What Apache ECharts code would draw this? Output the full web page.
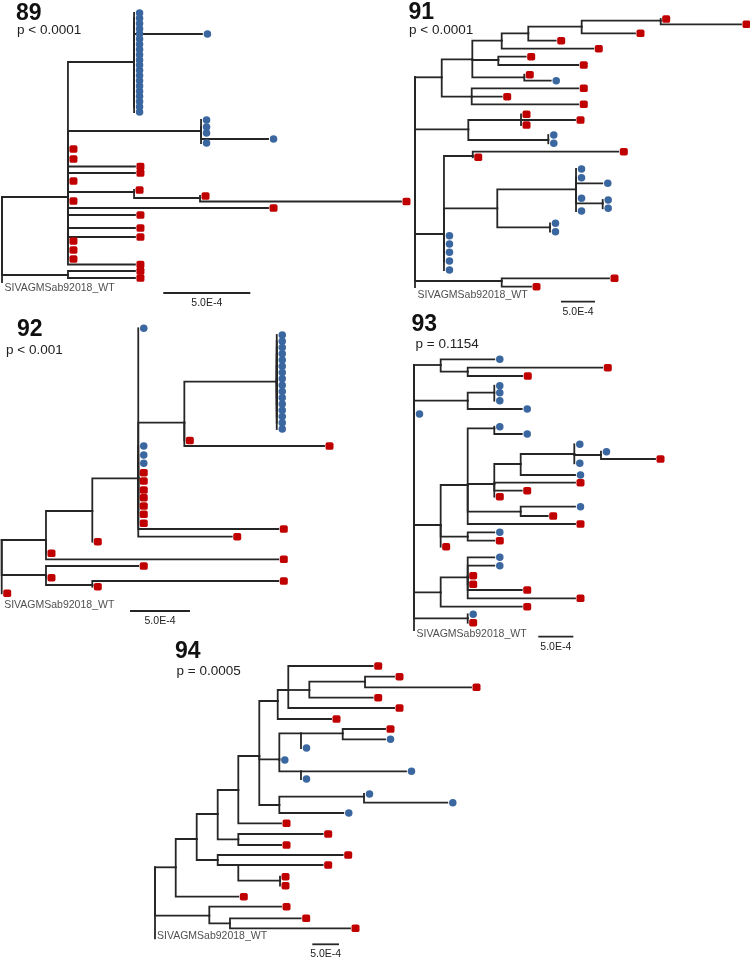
<!DOCTYPE html>
<html><head><meta charset="utf-8">
<script src="https://cdn.jsdelivr.net/npm/echarts@6/dist/echarts.min.js"></script>
<style>html,body{margin:0;padding:0;background:#fff}#c{width:750px;height:959px}</style>
</head><body><div id="c"></div>
<script>
// ================= DATA =================
// Each node: [id, parent, distance from root (x 1e-4 substitutions/site), row position (top = 0), tip type]
// tip type: 'r' = red square, 'b' = blue circle, '' = internal node, 'w' = unmarked reference tip
const tree89 = [
  ['root', null, 0, 37.4, ''],
  ['A', 'root', 3.79, 37.4, ''],
  ['B', 'A', 7.59, 10.4, ''],
  ['b1', 'B', 7.59, 0.6, 'b'], ['b2', 'B', 7.59, 1.64, 'b'], ['b3', 'B', 7.59, 2.68, 'b'],
  ['b4', 'B', 7.59, 3.73, 'b'], ['b5', 'B', 7.59, 4.77, 'b'], ['b6', 'B', 7.59, 5.81, 'b'],
  ['b7', 'B', 7.59, 6.85, 'b'], ['b8', 'B', 7.59, 7.89, 'b'], ['b9', 'B', 7.59, 8.94, 'b'],
  ['b10', 'B', 7.59, 9.98, 'b'], ['b11', 'B', 7.59, 11.02, 'b'], ['b12', 'B', 7.59, 12.06, 'b'],
  ['b13', 'B', 7.59, 13.1, 'b'], ['b14', 'B', 7.59, 14.15, 'b'], ['b15', 'B', 7.59, 15.19, 'b'],
  ['b16', 'B', 7.59, 16.23, 'b'], ['b17', 'B', 7.59, 17.27, 'b'], ['b18', 'B', 7.59, 18.31, 'b'],
  ['b19', 'B', 7.59, 19.36, 'b'], ['b20', 'B', 7.59, 20.4, 'b'],
  ['b21', 'B', 11.49, 4.8, 'b'],
  ['C', 'A', 11.44, 24.2, ''],
  ['c1', 'C', 11.44, 22, 'b'], ['c2', 'C', 11.44, 23.4, 'b'], ['c3', 'C', 11.44, 24.6, 'b'],
  ['c4', 'C', 11.44, 26.6, 'b'], ['c5', 'C', 15.29, 25.8, 'b'],
  ['a1', 'A', 3.79, 27.8, 'r'], ['a2', 'A', 3.79, 29.8, 'r'],
  ['a3', 'A', 7.64, 31.3, 'r'], ['a4', 'A', 7.64, 32.6, 'r'],
  ['a5', 'A', 3.79, 34.2, 'r'],
  ['D', 'A', 7.59, 36.4, ''], ['d1', 'D', 7.59, 36, 'r'],
  ['E', 'D', 11.38, 37.6, ''], ['e1', 'E', 11.38, 37.2, 'r'], ['e2', 'E', 22.93, 38.3, 'r'],
  ['a6', 'A', 3.79, 38.2, 'r'],
  ['a7', 'A', 15.29, 39.6, 'r'],
  ['a8', 'A', 7.64, 41, 'r'], ['a9', 'A', 7.64, 43.6, 'r'], ['a10', 'A', 7.64, 45.4, 'r'],
  ['a11', 'A', 3.79, 46.2, 'r'], ['a12', 'A', 3.79, 48, 'r'], ['a13', 'A', 3.79, 49.8, 'r'],
  ['a14', 'A', 7.64, 50.9, 'r'],
  ['F', 'root', 3.79, 53, ''], ['f1', 'F', 7.64, 52.2, 'r'], ['f2', 'F', 7.64, 53.6, 'r'],
  ['WT', 'root', 0, 54.4, 'w']
];

const tree91 = [
  ['root', null, 0, 13.46, ''],
  ['R1', 'root', 3.93, 13.46, ''],
  ['R2', 'R1', 8.43, 9.86, ''],
  ['R3', 'R2', 12.75, 6.14, ''],
  ['R4', 'R3', 16.66, 4.66, ''],
  ['R5', 'R4', 24.51, 3.34, ''],
  ['R6', 'R5', 36.13, 2.14, ''],
  ['t1', 'R6', 36.13, 1.8, 'r'], ['t2', 'R6', 47.94, 2.86, 'r'],
  ['t3', 'R5', 32.35, 4.66, 'r'],
  ['t4', 'R4', 20.69, 6.14, 'r'],
  ['t5', 'R3', 26.22, 7.74, 'r'],
  ['R7', 'R2', 12.25, 10, ''],
  ['t6', 'R7', 16.28, 9.34, 'r'], ['t7', 'R7', 24.01, 11, 'r'],
  ['R8', 'R2', 16.07, 13.46, ''],
  ['t8', 'R8', 16.07, 12.94, 'r'], ['t9', 'R8', 19.96, 14.14, 'b'],
  ['R9', 'R1', 8.34, 17.34, ''],
  ['t10', 'R9', 24.01, 15.66, 'r'], ['t11', 'R9', 12.75, 17.34, 'r'], ['t12', 'R9', 24.01, 18.86, 'r'],
  ['R10', 'root', 7.84, 23.86, ''],
  ['R11', 'R10', 15.59, 22, ''],
  ['t13', 'R11', 15.59, 20.86, 'r'], ['t14', 'R11', 23.53, 22, 'r'], ['t15', 'R11', 15.59, 23, 'r'],
  ['R12', 'R10', 19.6, 26, ''],
  ['t16', 'R12', 19.6, 25, 'b'], ['t17', 'R12', 19.6, 26.66, 'b'],
  ['R13', 'root', 4.26, 44.8, ''],
  ['R14', 'R13', 8.49, 29.2, ''],
  ['t18', 'R14', 29.9, 28.34, 'r'], ['t19', 'R14', 8.49, 29.46, 'r'],
  ['R15', 'R13', 12.1, 39.66, ''],
  ['R16', 'R15', 23.68, 35.86, ''],
  ['t20', 'R16', 23.68, 31.8, 'b'], ['t21', 'R16', 23.68, 33.54, 'b'], ['t22', 'R16', 27.54, 34.66, 'b'],
  ['t23', 'R16', 23.68, 37.66, 'b'],
  ['R17', 'R16', 27.6, 38.66, ''],
  ['t24', 'R17', 27.6, 38, 'b'], ['t25', 'R17', 27.6, 39.66, 'b'],
  ['t26', 'R16', 23.68, 40.2, 'b'],
  ['R18', 'R15', 19.85, 43.46, ''],
  ['t27', 'R18', 19.85, 42.66, 'b'], ['t28', 'R18', 19.85, 44.34, 'b'],
  ['t29', 'R13', 4.26, 45.14, 'b'], ['t30', 'R13', 4.26, 46.8, 'b'], ['t31', 'R13', 4.26, 48.46, 'b'],
  ['t32', 'R13', 4.26, 50.2, 'b'], ['t33', 'R13', 4.26, 52, 'b'],
  ['R19', 'root', 12.75, 54.2, ''],
  ['t34', 'R19', 28.53, 53.66, 'r'], ['t35', 'R19', 17.06, 55.34, 'r'],
  ['WT', 'root', 0, 55.4, 'w']
];

const tree92 = [
  ['root', null, 0, 44, ''],
  ['Q1', 'root', 3.69, 44, ''],
  ['Q2', 'Q1', 7.55, 38.2, ''],
  ['Q3', 'Q2', 11.38, 31.66, ''],
  ['u1', 'Q3', 11.38, 1.66, 'b'],
  ['Q4', 'Q3', 15.22, 20.54, ''],
  ['Q5', 'Q4', 22.92, 12.34, ''],
  ['u2', 'Q5', 22.92, 3, 'b'], ['u3', 'Q5', 22.92, 4.25, 'b'], ['u4', 'Q5', 22.92, 5.51, 'b'],
  ['u5', 'Q5', 22.92, 6.76, 'b'], ['u6', 'Q5', 22.92, 8.01, 'b'], ['u7', 'Q5', 22.92, 9.27, 'b'],
  ['u8', 'Q5', 22.92, 10.52, 'b'], ['u9', 'Q5', 22.92, 11.77, 'b'], ['u10', 'Q5', 22.92, 13.03, 'b'],
  ['u11', 'Q5', 22.92, 14.28, 'b'], ['u12', 'Q5', 22.92, 15.53, 'b'], ['u13', 'Q5', 22.92, 16.79, 'b'],
  ['u14', 'Q5', 22.92, 18.04, 'b'], ['u15', 'Q5', 22.92, 19.29, 'b'], ['u16', 'Q5', 22.92, 20.55, 'b'],
  ['u17', 'Q5', 22.92, 21.8, 'b'],
  ['u18', 'Q4', 15.22, 24.1, 'r'], ['u19', 'Q4', 26.86, 25.2, 'r'],
  ['u20', 'Q3', 11.38, 25.2, 'b'], ['u21', 'Q3', 11.38, 27, 'b'], ['u22', 'Q3', 11.38, 28.66, 'b'],
  ['u23', 'Q3', 11.38, 30.54, 'r'], ['u24', 'Q3', 11.38, 32.2, 'r'], ['u25', 'Q3', 11.38, 34, 'r'],
  ['u26', 'Q3', 11.38, 35.54, 'r'], ['u27', 'Q3', 11.38, 37.2, 'r'], ['u28', 'Q3', 11.38, 38.86, 'r'],
  ['u29', 'Q3', 11.38, 40.66, 'r'],
  ['u30', 'Q3', 23.05, 41.8, 'r'], ['u31', 'Q3', 19.17, 43.34, 'r'],
  ['u32', 'Q2', 7.55, 44.34, 'r'],
  ['u33', 'Q1', 3.69, 46.66, 'r'], ['u34', 'Q1', 23.05, 47.86, 'r'],
  ['Q6', 'root', 3.69, 51, ''],
  ['u35', 'Q6', 11.38, 49.2, 'r'], ['u36', 'Q6', 3.69, 51.54, 'r'],
  ['Q7', 'Q6', 7.55, 53, ''],
  ['u37', 'Q7', 23.05, 52.2, 'r'], ['u38', 'Q7', 7.55, 53.34, 'r'],
  ['WT', 'root', 0, 54.66, 'r']
];

const tree93 = [
  ['root', null, 0, 3, ''],
  ['S1', 'root', 3.81, 3, ''],
  ['v1', 'S1', 11.47, 1.86, 'b'],
  ['S2', 'S1', 7.67, 4.34, ''],
  ['v2', 'S2', 26.9, 3.54, 'r'], ['v3', 'S2', 15.47, 5.2, 'r'],
  ['S3', 'root', 7.67, 10.14, ''],
  ['S4', 'S3', 11.47, 8.54, ''],
  ['v4', 'S4', 11.47, 7.14, 'b'], ['v5', 'S4', 11.47, 8.54, 'b'], ['v6', 'S4', 11.47, 10.14, 'b'],
  ['v7', 'S3', 15.39, 11.8, 'b'],
  ['v8', 'root', 0, 12.8, 'b'],
  ['S12', 'root', 3.81, 35, ''],
  ['S5', 'S12', 7.67, 27, ''],
  ['S6', 'S5', 11.47, 15.66, ''],
  ['v9', 'S6', 11.47, 15.34, 'b'], ['v10', 'S6', 15.39, 16.8, 'b'],
  ['S7', 'S5', 11.47, 26.8, ''],
  ['S8', 'S7', 15.24, 22.8, ''],
  ['S9', 'S8', 22.9, 20.8, ''],
  ['v11', 'S9', 22.9, 18.86, 'b'],
  ['S10', 'S9', 26.71, 21, ''],
  ['v12', 'S10', 26.71, 20.34, 'b'], ['v13', 'S10', 34.43, 21.8, 'r'],
  ['v14', 'S9', 22.9, 22.66, 'b'],
  ['v15', 'S8', 23, 25, 'b'],
  ['v16', 'S7', 23, 26.54, 'r'], ['v17', 'S7', 15.39, 28.14, 'r'], ['v18', 'S7', 11.47, 29.34, 'r'],
  ['S13', 'S5', 15.24, 32.34, ''],
  ['v19', 'S13', 23, 31.34, 'b'], ['v20', 'S13', 19.1, 33.2, 'r'],
  ['v21', 'S5', 23, 34.8, 'r'],
  ['S14', 'S12', 7.67, 37.34, ''],
  ['v22', 'S14', 11.47, 36.46, 'b'], ['v23', 'S14', 11.47, 38.14, 'r'],
  ['v24', 'S12', 3.81, 39.34, 'r'],
  ['S15', 'root', 3.81, 48.46, ''],
  ['S16', 'S15', 7.67, 45.46, ''],
  ['v25', 'S16', 11.47, 41.46, 'b'], ['v26', 'S16', 11.47, 43.14, 'b'],
  ['v27', 'S16', 7.67, 45.14, 'r'], ['v28', 'S16', 7.67, 46.86, 'r'],
  ['v29', 'S16', 15.39, 48, 'r'], ['v30', 'S16', 23, 49.66, 'r'],
  ['v31', 'S15', 15.39, 51.34, 'r'],
  ['S17', 'root', 7.67, 53.66, ''],
  ['v32', 'S17', 7.67, 52.86, 'b'], ['v33', 'S17', 7.67, 54.54, 'r'],
  ['WT', 'root', 0, 56, 'w']
];

const tree94 = [
  ['root', null, 0, 41.46, ''],
  ['T1', 'root', 3.88, 41.46, ''],
  ['T2', 'T1', 7.81, 35.8, ''],
  ['T3', 'T2', 11.74, 30.8, ''],
  ['T4', 'T3', 15.6, 26, ''],
  ['T5', 'T4', 19.53, 19.2, ''],
  ['T6', 'T5', 22.98, 8.2, ''],
  ['T7', 'T6', 24.96, 6, ''],
  ['w1', 'T7', 40.77, 1.2, 'r'],
  ['T8', 'T7', 28.9, 6, ''],
  ['T9', 'T8', 39.33, 4.34, ''],
  ['w2', 'T9', 44.76, 3.34, 'r'], ['w3', 'T9', 59.18, 5.46, 'r'],
  ['w4', 'T8', 40.77, 7.54, 'r'],
  ['w5', 'T7', 44.76, 9.6, 'r'],
  ['w6', 'T6', 32.96, 11.8, 'r'],
  ['T10', 'T5', 23.28, 19.86, ''],
  ['T11', 'T10', 27.34, 14.66, ''],
  ['T12', 'T11', 35.15, 14.66, ''],
  ['w7', 'T12', 43.07, 13.8, 'r'], ['w8', 'T12', 43.07, 15.86, 'b'],
  ['w9', 'T11', 27.34, 17.6, 'b'],
  ['w10', 'T10', 23.28, 20, 'b'],
  ['T13', 'T10', 27.34, 22.26, ''],
  ['w11', 'T13', 47, 22.26, 'b'], ['w12', 'T13', 27.34, 23.8, 'b'],
  ['T14', 'T5', 23.28, 29, ''],
  ['T15', 'T14', 39.14, 27.34, ''],
  ['w13', 'T15', 39.14, 26.8, 'b'], ['w14', 'T15', 54.74, 28.54, 'b'],
  ['w15', 'T14', 35.26, 30.6, 'b'],
  ['w16', 'T4', 23.6, 32.66, 'r'],
  ['T16', 'T3', 15.6, 35.86, ''],
  ['w17', 'T16', 31.4, 34.8, 'r'], ['w18', 'T16', 23.6, 37, 'r'],
  ['T17', 'T2', 11.74, 40, ''],
  ['w19', 'T17', 35.15, 39, 'r'],
  ['T18', 'T17', 15.6, 41, ''],
  ['w20', 'T18', 31.4, 41, 'r'],
  ['T19', 'T18', 23.41, 44.14, ''],
  ['w21', 'T19', 23.41, 43.34, 'r'], ['w22', 'T19', 23.41, 45.14, 'r'],
  ['w23', 'T1', 15.6, 47.34, 'r'],
  ['T20', 'root', 10.17, 51.14, ''],
  ['w24', 'T20', 23.6, 49.34, 'r'],
  ['T21', 'T20', 14.04, 52.66, ''],
  ['w25', 'T21', 27.28, 51.66, 'r'], ['w26', 'T21', 36.52, 53.66, 'r'],
  ['WT', 'root', 0, 55.66, 'w']
];

const panelNames = ['89', '91', '92', '93', '94'];
const pValues = ['p < 0.0001', 'p < 0.0001', 'p < 0.001', 'p = 0.1154', 'p = 0.0005'];
const referenceName = 'SIVAGMSab92018_WT';
const scaleBarValue = [5];          // in units of 1e-4 substitutions/site
const scaleBarLabel = '5.0E-4';

// ================= LAYOUT / STYLE =================
const FONT = '"Liberation Sans", Arial, Helvetica, sans-serif';
const LINE = '#262626';
const RED = '#c00000';
const BLUE = '#3b67a0';
const layout = [
  { grid: { left: 2, top: 10, width: 417.6, height: 290 }, xMax: 24, yMax: 58,
    title: [16, 13.5], p: [17, 30.5], wt: [3, 6.5], bar: [163.3, 293] },
  { grid: { left: 415, top: 10, width: 333.2, height: 290 }, xMax: 49, yMax: 58,
    title: [408.5, 13], p: [409, 30], wt: [3, 9], bar: [561, 301.7] },
  { grid: { left: 1.7, top: 320, width: 360, height: 290 }, xMax: 30, yMax: 58,
    title: [17, 330], p: [6, 350], wt: [3, 12], bar: [130, 611] },
  { grid: { left: 414, top: 350, width: 336, height: 290 }, xMax: 48, yMax: 58,
    title: [411.5, 325], p: [415.5, 344.5], wt: [3, 4.5], bar: [538.3, 636.7] },
  { grid: { left: 155, top: 660, width: 341.76, height: 290 }, xMax: 64, yMax: 58,
    title: [175, 652], p: [176.5, 671.5], wt: [2.5, -1.5], bar: [312.3, 944.3] }
];

function branchRender(params, api) {
  const c = api.coord([api.value(0), api.value(1)]);
  const p = api.coord([api.value(2), api.value(3)]);
  return {
    type: 'polyline',
    shape: { points: [[p[0], p[1]], [p[0], c[1]], [c[0], c[1]]] },
    style: { stroke: LINE, lineWidth: 1.8, fill: null, lineCap: 'square', lineJoin: 'miter' },
    silent: true
  };
}

function makeBarRender(L) {
  return function (params, api) {
    const a = api.coord([0, 0]);
    const b = api.coord([api.value(0), 0]);
    const len = b[0] - a[0];
    const x0 = L.bar[0], y0 = L.bar[1];
    return {
      type: 'group',
      children: [
        { type: 'line', shape: { x1: x0, y1: y0, x2: x0 + len, y2: y0 },
          style: { stroke: LINE, lineWidth: 1.8 } },
        { type: 'text', x: x0 + len / 2, y: y0 + 10,
          style: { text: scaleBarLabel, fill: '#222', font: '10.5px ' + FONT,
                   align: 'center', verticalAlign: 'middle', textAlign: 'center', textVerticalAlign: 'middle' } }
      ]
    };
  };
}

const trees = [tree89, tree91, tree92, tree93, tree94];
const grids = [], xAxes = [], yAxes = [], series = [], graphics = [];

trees.forEach((nodes, i) => {
  const L = layout[i];
  grids.push(Object.assign({ containLabel: false }, L.grid));
  xAxes.push({ type: 'value', gridIndex: i, min: 0, max: L.xMax, show: false });
  yAxes.push({ type: 'value', gridIndex: i, min: 0, max: L.yMax, inverse: true, show: false });
  const byId = {};
  nodes.forEach(n => { byId[n[0]] = n; });
  const edges = nodes.filter(n => n[1]).map(n => {
    const p = byId[n[1]];
    return [n[2], n[3], p[2], p[3]];
  });
  series.push({
    type: 'custom', xAxisIndex: i, yAxisIndex: i, renderItem: branchRender,
    data: edges, encode: { x: [0, 2], y: [1, 3] }, silent: true, z: 1
  });
  series.push({
    type: 'scatter', xAxisIndex: i, yAxisIndex: i, symbol: 'circle', symbolSize: 7.5,
    symbolOffset: [5.5, 0], itemStyle: { color: BLUE, opacity: 1 }, silent: true, z: 3, clip: false,
    data: nodes.filter(n => n[4] === 'b').map(n => [n[2], n[3]])
  });
  series.push({
    type: 'scatter', xAxisIndex: i, yAxisIndex: i, symbol: 'roundRect', symbolSize: [8, 7.5],
    symbolOffset: [5.5, 0], itemStyle: { color: RED, opacity: 1 }, silent: true, z: 3, clip: false,
    data: nodes.filter(n => n[4] === 'r').map(n => [n[2], n[3]])
  });
  const wt = byId['WT'];
  series.push({
    type: 'scatter', xAxisIndex: i, yAxisIndex: i, symbol: 'circle', symbolSize: 1,
    itemStyle: { color: 'rgba(0,0,0,0)' }, silent: true, z: 4, clip: false,
    data: [{ value: [wt[2], wt[3]], name: referenceName }],
    label: { show: true, formatter: '{b}', position: L.wt, align: 'left', verticalAlign: 'middle',
             fontSize: 10.5, fontFamily: FONT, color: '#222' }
  });
  series.push({
    type: 'custom', xAxisIndex: i, yAxisIndex: i, renderItem: makeBarRender(L),
    data: [scaleBarValue], encode: { x: 0 }, silent: true, z: 2
  });
  graphics.push({
    type: 'text', x: L.title[0], y: L.title[1], silent: true,
    style: { text: panelNames[i], fill: '#111', font: 'bold 23px ' + FONT,
             align: 'left', verticalAlign: 'middle', textAlign: 'left', textVerticalAlign: 'middle' }
  });
  graphics.push({
    type: 'text', x: L.p[0], y: L.p[1], silent: true,
    style: { text: pValues[i], fill: '#222', font: '13.5px ' + FONT,
             align: 'left', verticalAlign: 'middle', textAlign: 'left', textVerticalAlign: 'middle' }
  });
});

const chart = echarts.init(document.getElementById('c'), null, { renderer: 'canvas' });
chart.setOption({
  backgroundColor: '#ffffff',
  animation: false,
  grid: grids,
  xAxis: xAxes,
  yAxis: yAxes,
  series: series,
  graphic: graphics
});
</script>
</body></html>
